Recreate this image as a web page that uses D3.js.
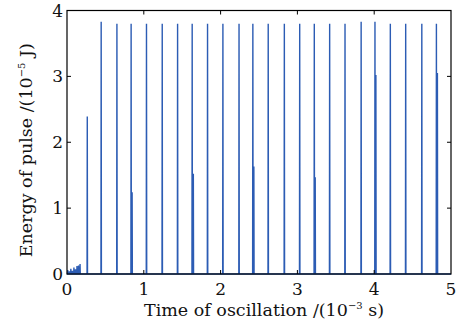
<!DOCTYPE html>
<html>
<head>
<meta charset="utf-8">
<script src="https://cdn.jsdelivr.net/npm/d3@7"></script>
<style>
  body { margin: 0; background: #fff; }
  svg text { font-family: "DejaVu Serif", "Liberation Serif", serif; fill: #111; }
</style>
</head>
<body>
<div id="graph"></div>
<script>
// main laser pulses (time in 10^-3 s, energy in 10^-5 J)
var pulseTimes = [0.264, 0.445, 0.65, 0.835, 1.035, 1.24, 1.44, 1.63, 1.83, 2.03, 2.24, 2.42,
  2.62, 2.83, 3.03, 3.22, 3.42, 3.62, 3.83, 4.01, 4.21, 4.41, 4.62, 4.81];
var pulseEnergy = [2.39, 3.83, 3.80, 3.80, 3.80, 3.80, 3.80, 3.80, 3.80, 3.80, 3.80, 3.80,
  3.80, 3.80, 3.80, 3.80, 3.80, 3.80, 3.83, 3.83, 3.80, 3.80, 3.80, 3.80];
// weaker pulses sitting right next to some main ones
var secondTimes = [0.848, 1.645, 2.433, 3.232, 4.022, 4.823];
var secondEnergy = [1.24, 1.52, 1.63, 1.47, 3.02, 3.05];
// start-up relaxation spikes
var noiseTimes = [0.01, 0.03, 0.05, 0.07, 0.09, 0.11, 0.13, 0.15, 0.17];
var noiseEnergy = [0.06, 0.04, 0.08, 0.05, 0.10, 0.07, 0.12, 0.13, 0.15];

var xTicks = [0, 1, 2, 3, 4, 5];
var yTicks = [0, 1, 2, 3, 4];

var W = 465, H = 324;
var margin = { top: 10.5, right: 14, bottom: 50, left: 67 },
  width = W - margin.left - margin.right,
  height = H - margin.top - margin.bottom;

var svg = d3.select("#graph").append("svg")
  .attr("width", W).attr("height", H);
var g = svg.append("g")
  .attr("transform", "translate(" + margin.left + "," + margin.top + ")");

var x = d3.scaleLinear().domain([0, 5]).range([0, width]);
var y = d3.scaleLinear().domain([0, 4]).range([height, 0]);

// collect all spikes, then draw them as one energy trace
var spikes = [];
pulseTimes.forEach((t, i) => spikes.push([t, pulseEnergy[i]]));
secondTimes.forEach((t, i) => spikes.push([t, secondEnergy[i]]));
noiseTimes.forEach((t, i) => spikes.push([t, noiseEnergy[i]]));
spikes.sort((a, b) => a[0] - b[0]);

var d = 0.003;
var pts = [[0, 0]];
spikes.forEach(s => {
  pts.push([s[0] - d, 0], [s[0], s[1]], [s[0] + d, 0]);
});
pts.push([5, 0]);

var line = d3.line().x(p => x(p[0])).y(p => y(p[1]));

g.append("path")
  .datum(pts)
  .attr("fill", "none")
  .attr("stroke", "#2c5cb4")
  .attr("stroke-width", 1.4)
  .attr("d", line);

// box
g.append("rect")
  .attr("width", width).attr("height", height)
  .attr("fill", "none").attr("stroke", "#000").attr("stroke-width", 1.2);

var tl = 4;
// inward ticks on all sides
g.selectAll(".xtb").data(xTicks.slice(1, -1)).join("line")
  .attr("x1", x).attr("x2", x).attr("y1", height).attr("y2", height - tl)
  .attr("stroke", "#000");
g.selectAll(".xtt").data(xTicks.slice(1, -1)).join("line")
  .attr("x1", x).attr("x2", x).attr("y1", 0).attr("y2", tl)
  .attr("stroke", "#000");
g.selectAll(".ytl").data(yTicks.slice(1, -1)).join("line")
  .attr("y1", y).attr("y2", y).attr("x1", 0).attr("x2", tl)
  .attr("stroke", "#000");
g.selectAll(".ytr").data(yTicks.slice(1, -1)).join("line")
  .attr("y1", y).attr("y2", y).attr("x1", width).attr("x2", width - tl)
  .attr("stroke", "#000");

// tick labels
g.selectAll(".xl").data(xTicks).join("text")
  .attr("x", x).attr("y", height + 21)
  .attr("text-anchor", "middle")
  .attr("font-size", 17)
  .text(v => v);
g.selectAll(".yl").data(yTicks).join("text")
  .attr("x", -4).attr("y", v => y(v) + 6)
  .attr("text-anchor", "end")
  .attr("font-size", 17)
  .text(v => v);

// axis titles
var xt = svg.append("text")
  .attr("x", margin.left + width / 2 + 5).attr("y", 316)
  .attr("text-anchor", "middle").attr("font-size", 17.5);
xt.append("tspan").text("Time of oscillation /(10");
xt.append("tspan").attr("font-size", 10).attr("dy", -7).text("−3");
xt.append("tspan").attr("dy", 7).text(" s)");

var yt = svg.append("text")
  .attr("transform", "translate(32," + (margin.top + height / 2 + 8) + ") rotate(-90)")
  .attr("text-anchor", "middle").attr("font-size", 17.5);
yt.append("tspan").text("Energy of pulse /(10");
yt.append("tspan").attr("font-size", 10).attr("dy", -7).text("−5");
yt.append("tspan").attr("dy", 7).text(" J)");
</script>
</body>
</html>
